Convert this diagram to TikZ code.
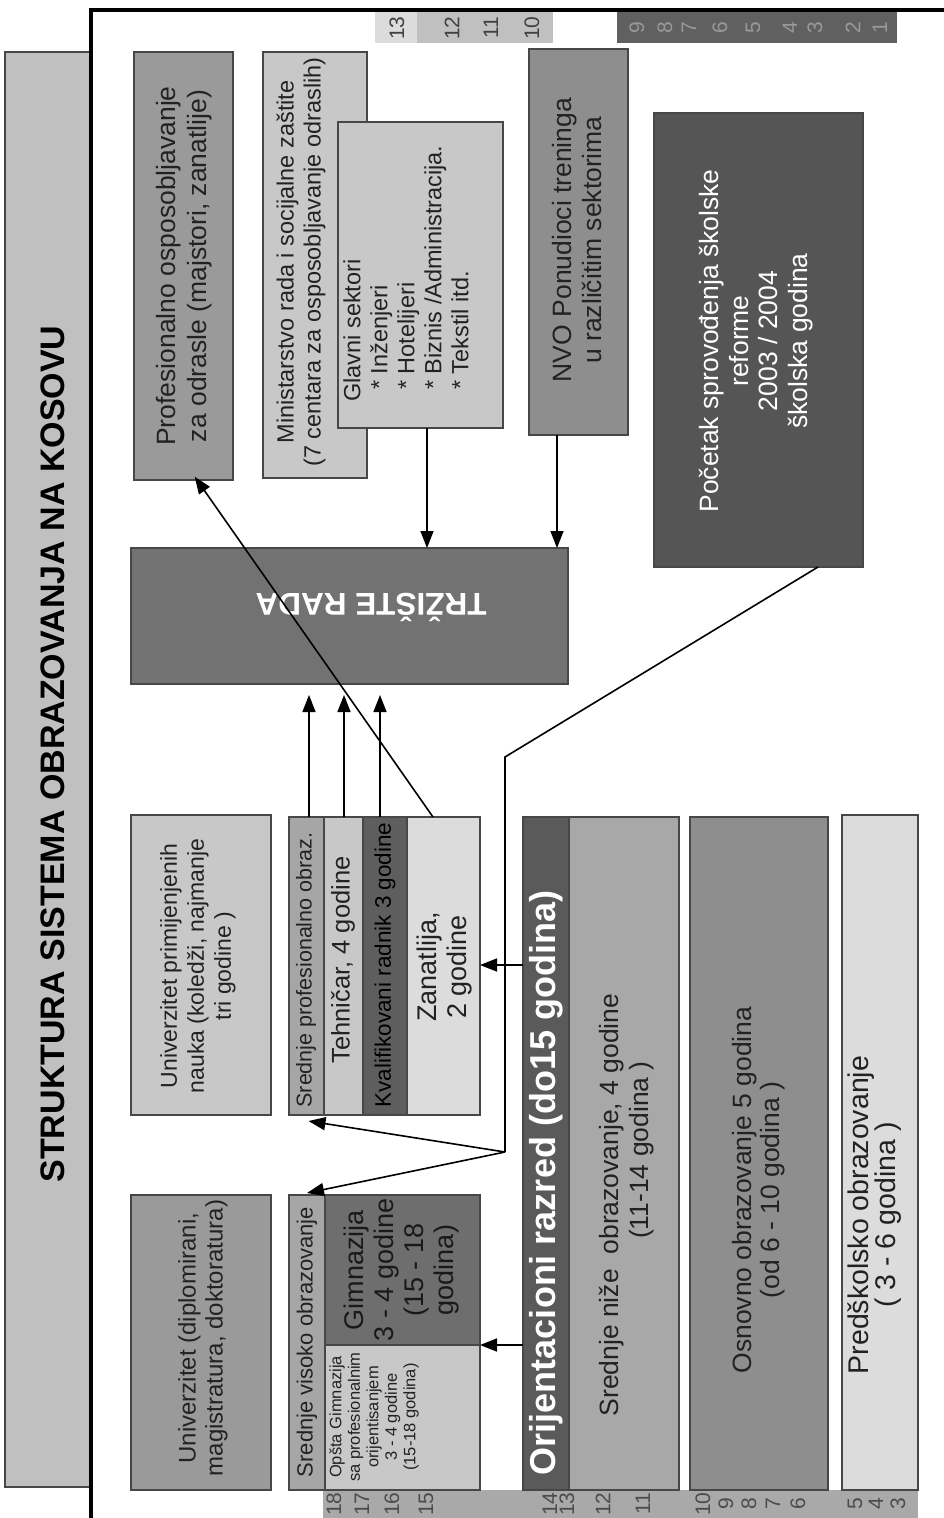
\documentclass[tikz,border=0pt]{standalone}
\usepackage{fontspec}
\setmainfont{Liberation Sans}
\usetikzlibrary{arrows.meta,fit}
\newcommand\myfs[2]{\fontsize{#1}{#2}\selectfont}
\definecolor{cTitle}{HTML}{C0C0C0}
\definecolor{cProf}{HTML}{9A9A9A}
\definecolor{cLight}{HTML}{C8C8C8}
\definecolor{cVLight}{HTML}{DCDCDC}
\definecolor{cNvo}{HTML}{8E8E8E}
\definecolor{cPoc}{HTML}{555555}
\definecolor{cTrz}{HTML}{727272}
\definecolor{cMid}{HTML}{A6A6A6}
\definecolor{cGim}{HTML}{6E6E6E}
\definecolor{cKval}{HTML}{5E5E5E}
\definecolor{cOrij}{HTML}{5A5A5A}
\definecolor{cNize}{HTML}{A8A8A8}
\definecolor{cDarkNum}{HTML}{606060}
\definecolor{cBand}{HTML}{A9A9A9}
\definecolor{cTxt}{HTML}{222222}
\begin{document}
\begin{tikzpicture}[x=1pt,y=-1pt,
  box/.style={draw=black!72, line width=1.1pt, inner sep=0pt, outer sep=0pt},
  band/.style={inner sep=0pt, outer sep=0pt},
  lbl/.style={rotate=90, align=center, inner sep=0pt, text=cTxt},
  num/.style={rotate=90, inner sep=0pt, font=\myfs{21}{24}},
  arr/.style={line width=1.6pt, -{Triangle[length=17pt,width=13pt]}},
  ln/.style={line width=1.6pt}]
\useasboundingbox (0,0) rectangle (944,1518);

% title and frame
\node[box, fill=cTitle, fit={(5,52) (91,1487)}] (title) {};
\node[lbl, text=black, font=\bfseries\myfs{34}{38}] (titletxt) at (53,754) {STRUKTURA SISTEMA OBRAZOVANJA NA KOSOVU};
\coordinate (f1) at (91,1518);
\coordinate (f2) at (91,10);
\coordinate (f3) at (944,10);
\draw[line width=3.2pt] (f1) -- (f2) -- (f3);

% top number bands
\node[band, fill=cVLight, fit={(375,12) (417,43)}] (b13) {};
\node[band, fill=cTitle, fit={(417,12) (553,43)}] (b12) {};
\node[band, fill=cDarkNum, fit={(617,12) (897,43)}] (b9) {};
\foreach \n/\x in {13/397, 12/452, 11/491, 10/532}
  \node[num, text=black!75] (tn\n) at (\x,28) {\n};
\foreach \n/\x in {9/637, 8/665, 7/689, 6/720, 5/753, 4/790, 3/815, 2/853, 1/880}
  \node[num, text=black!40] (tn\n) at (\x,28) {\n};

% bottom number band
\node[band, fill=cBand, fit={(323,1490) (918,1518)}] (bband) {};
\foreach \n/\x in {18/334, 17/362, 16/392, 15/426, 14/550, 13/567, 12/603, 11/643, 10/703, 9/726, 8/749, 7/773, 6/798, 5/855, 4/876, 3/898}
  \node[num, text=black!70] (bn\n) at (\x,1504) {\n};

% top boxes
\node[box, fill=cProf, fit={(134,52) (233,480)}] (prof) {};
\node[lbl, font=\myfs{26.5}{31}] at (184,266) {Profesionalno osposobljavanje\\za odrasle (majstori, zanatlije)};

\node[box, fill=cLight, fit={(263,52) (367,478)}] (minist) {};
\node[lbl, font=\myfs{23.5}{27}] at (301,262) {Ministarstvo rada i socijalne zaštite\\(7 centara za osposobljavanje odraslih)};

\node[box, fill=cLight, fit={(338,122) (503,428)}] (glavni) {};
\node[lbl, anchor=west, align=left, font=\myfs{23.5}{27}] at (406,402) {Glavni sektori\\\hspace*{12pt}* Inženjeri\\\hspace*{12pt}* Hotelijeri\\\hspace*{12pt}* Biznis /Administracija.\\\hspace*{12pt}* Tekstil itd.};

\node[box, fill=cNvo, fit={(529,49) (628,435)}] (nvo) {};
\node[lbl, font=\myfs{26.5}{30}] at (577,240) {NVO Ponudioci treninga\\u različitim sektorima};

\node[box, fill=cPoc, fit={(654,113) (863,567)}] (pocetak) {};
\node[lbl, text=white, font=\myfs{26.5}{29.5}] at (756,341) {Početak sprovođenja školske\\reforme\\2003 / 2004\\školska godina};

% labour market
\node[box, fill=cTrz, fit={(131,548) (568,684)}] (trziste) {};
\node[rotate=180, inner sep=0pt, text=white, font=\bfseries\myfs{31.5}{34}] at (371,607) {TRŽIŠTE RADA};

% universities
\node[box, fill=cLight, fit={(131,815) (271,1115)}] (univp) {};
\node[lbl, font=\myfs{23}{27}] at (198,966) {Univerzitet primijenjenih\\nauka (koledži, najmanje\\tri godine )};

\node[box, fill=cProf, fit={(131,1195) (271,1490)}] (univd) {};
\node[lbl, font=\myfs{24}{27}] at (203,1338) {Univerzitet (diplomirani,\\magistratura, doktoratura)};

% secondary higher education
\node[box, fill=cMid, fit={(289,1195) (325,1490)}] (srvis) {};
\node[lbl, font=\myfs{22}{25}] at (307,1342) {Srednje visoko obrazovanje};
\node[box, fill=cGim, fit={(325,1195) (480,1345)}] (gimn) {};
\node[lbl, text=black!90, font=\myfs{27}{30}] at (402,1270) {Gimnazija\\3 - 4 godine\\(15 - 18\\godina)};
\node[box, fill=cLight, fit={(325,1345) (480,1490)}] (opsta) {};
\node[lbl, font=\myfs{16.5}{18.5}] at (374,1417) {Opšta Gimnazija\\sa profesionalnim\\orijentisanjem\\3 - 4 godine\\(15-18 godina)};

% vocational secondary
\node[box, fill=cMid, fit={(289,817) (324,1115)}] (srprof) {};
\node[lbl, font=\myfs{21.5}{24}] at (306,970) {Srednje profesionalno obraz.};
\node[box, fill=cLight, fit={(324,817) (363,1115)}] (tehn) {};
\node[lbl, font=\myfs{25.5}{28}] at (343,960) {Tehničar, 4 godine};
\node[box, fill=cKval, fit={(363,817) (407,1115)}] (kval) {};
\node[lbl, text=black, font=\myfs{22.5}{25}] at (385,965) {Kvalifikovani radnik 3 godine};
\node[box, fill=cVLight, fit={(407,817) (480,1115)}] (zan) {};
\node[lbl, font=\myfs{27}{30}] at (445,967) {Zanatlija,\\2 godine};

% lower levels
\node[box, fill=cOrij, fit={(523,817) (569,1490)}] (orij) {};
\node[lbl, text=white, font=\bfseries\myfs{36}{38}] at (546,1183) {Orijentacioni razred (do15 godina)};
\node[box, fill=cNize, fit={(569,817) (679,1490)}] (nize) {};
\node[lbl, font=\myfs{26.5}{30}] at (627,1205) {Srednje niže\ \ obrazovanje, 4 godine\\\hspace*{110pt}(11-14 godina )};
\node[box, fill=cNvo, fit={(690,817) (828,1490)}] (osnov) {};
\node[lbl, font=\myfs{26.5}{28}] at (759,1190) {Osnovno obrazovanje 5 godina\\(od 6 - 10 godina )};
\node[box, fill=cVLight, fit={(842,815) (918,1490)}] (predsk) {};
\node[lbl, font=\myfs{28.5}{27}] at (875,1215) {Predškolsko obrazovanje\\( 3 - 6 godina )};

% connectors
\coordinate (x427) at (427,0);
\coordinate (x557) at (557,0);
\coordinate (x309) at (309,0);
\coordinate (x344) at (344,0);
\coordinate (x380) at (380,0);
\coordinate (x433) at (433,0);
\coordinate (x197) at (197,0);
\coordinate (x818) at (818,0);
\coordinate (y965) at (0,965);
\coordinate (bend) at (505,757);
\coordinate (split) at (505,1152);

\draw[arr] (glavni.south -| x427) -- (trziste.north -| x427);
\draw[arr] (nvo.south -| x557) -- (trziste.north -| x557);
\draw[arr, shorten >=11pt] (srprof.north -| x309) -- (trziste.south -| x309);
\draw[arr, shorten >=11pt] (tehn.north -| x344) -- (trziste.south -| x344);
\draw[arr, shorten >=11pt] (kval.north -| x380) -- (trziste.south -| x380);
\draw[arr, shorten >=-4pt] (zan.north -| x433) -- (prof.south -| x197);
\draw[arr] (orij.west |- y965) -- (zan.east |- y965);
\draw[arr] (orij.west |- gimn.south east) -- (gimn.south east);
\draw[ln] (pocetak.south -| x818) -- (bend) -- (split);
\draw[arr] (split) -- ([shift={(2,6)}]srprof.south);
\draw[arr] (split) -- ([shift={(0,-2)}]srvis.north);
\end{tikzpicture}
\end{document}
